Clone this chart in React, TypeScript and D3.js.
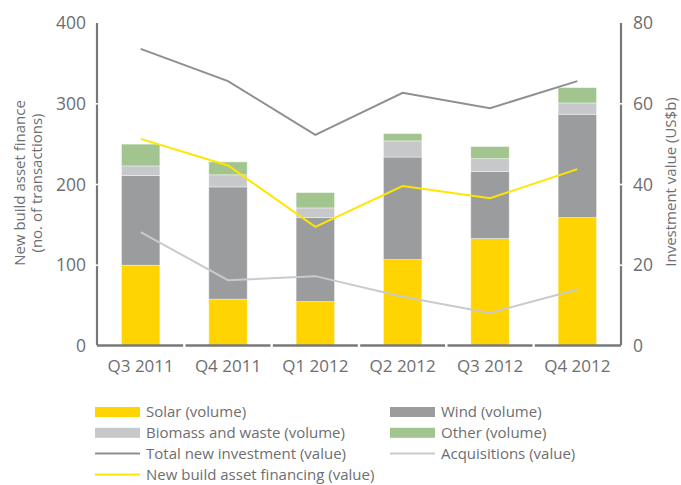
import React from "react";
import * as d3 from "d3";

const categories = ["Q3 2011", "Q4 2011", "Q1 2012", "Q2 2012", "Q3 2012", "Q4 2012"];
const solarVolume = [100, 58, 55, 107, 133, 159];
const windVolume = [111, 139, 104, 127, 83, 128];
const biomassVolume = [12, 15, 12, 20, 16, 14];
const otherVolume = [27, 16, 19, 9, 15, 19];
const totalInvestment = [73.6, 65.6, 52.3, 62.7, 58.9, 65.6];
const newBuildFinancing = [51.3, 44.7, 29.5, 39.6, 36.6, 43.8];
const acquisitions = [28.2, 16.3, 17.3, 12.2, 8.2, 14.0];
const leftTicks = [0, 100, 200, 300, 400];
const rightTicks = [0, 20, 40, 60, 80];

const FONT = "'Open Sans', sans-serif";
const AXIS = "#77787b";
const TEXT = "#6d6e71";

const seriesKeys = ["solar", "wind", "biomass", "other"];
const barColors: Record<string, string> = {
  solar: "#ffd400",
  wind: "#9b9c9e",
  biomass: "#c7c8ca",
  other: "#a2c58f",
};

export default function App() {
  const W = 681, H = 485;
  const x0 = 97, x1 = 621;
  const yTop = 23, yBot = 346;
  const x = d3.scaleBand<string>().domain(categories).range([x0, x1]).paddingInner(0).paddingOuter(0);
  const yL = d3.scaleLinear().domain([0, 400]).range([yBot, yTop]);
  const yR = d3.scaleLinear().domain([0, 80]).range([yBot, yTop]);
  const barW = x.bandwidth() * 0.44;

  const rows = categories.map((c, i) => ({
    cat: c,
    solar: solarVolume[i],
    wind: windVolume[i],
    biomass: biomassVolume[i],
    other: otherVolume[i],
  }));
  const stack = d3.stack<any>().keys(seriesKeys)(rows);

  const cx = (c: string) => (x(c) as number) + x.bandwidth() / 2;
  const line = (vals: number[]) =>
    d3.line<number>().x((_, i) => cx(categories[i])).y((v) => yR(v))(vals) as string;

  const leftSegs = leftTicks.slice(0, -1).map((t, i) => [yL(leftTicks[i + 1]), yL(t)]);
  const rightSegs = rightTicks.slice(0, -1).map((t, i) => [yR(rightTicks[i + 1]), yR(t)]);

  const legend = [
    { label: "Solar (volume)", type: "rect", color: barColors.solar, col: 0, row: 0 },
    { label: "Wind (volume)", type: "rect", color: barColors.wind, col: 1, row: 0 },
    { label: "Biomass and waste (volume)", type: "rect", color: barColors.biomass, col: 0, row: 1 },
    { label: "Other (volume)", type: "rect", color: barColors.other, col: 1, row: 1 },
    { label: "Total new investment (value)", type: "line", color: "#8e8f91", col: 0, row: 2 },
    { label: "Acquisitions (value)", type: "line", color: "#c9cacc", col: 1, row: 2 },
    { label: "New build asset financing (value)", type: "line", color: "#ffe600", col: 0, row: 3 },
  ];
  const legX = [95, 390];
  const legY = (r: number) => 412 + r * 20.8;

  return (
    <svg width={W} height={H} style={{ position: "absolute", left: 0, top: 0 }} fontFamily={FONT}>
      <rect width={W} height={H} fill="#fff" />
      {stack.map((s) =>
        s.map((d, i) => (
          <rect
            key={s.key + i}
            x={cx(categories[i]) - barW / 2}
            y={yL(d[1])}
            width={barW}
            height={yL(d[0]) - yL(d[1])}
            fill={barColors[s.key as string]}
            stroke="#ffffff"
            strokeOpacity={0.5}
            strokeWidth={0.8}
          />
        ))
      )}
      <path d={line(totalInvestment)} fill="none" stroke="#8e8f91" strokeWidth={2} />
      <path d={line(acquisitions)} fill="none" stroke="#c9cacc" strokeWidth={2} />
      <path d={line(newBuildFinancing)} fill="none" stroke="#ffe600" strokeWidth={2} />
      {leftSegs.map(([a, b], i) => (
        <line key={"l" + i} x1={x0} x2={x0} y1={a + (i === leftSegs.length - 1 ? 0 : 0.8)} y2={b - 0.8} stroke={AXIS} strokeWidth={2.2} />
      ))}
      {rightSegs.map(([a, b], i) => (
        <line key={"r" + i} x1={x1} x2={x1} y1={a + (i === rightSegs.length - 1 ? 0 : 0.8)} y2={b - 0.8} stroke={AXIS} strokeWidth={2.2} />
      ))}
      {categories.map((c, i) => (
        <line
          key={"b" + i}
          x1={(x(c) as number) + (i === 0 ? 0 : 1.2)}
          x2={(x(c) as number) + x.bandwidth() - (i === categories.length - 1 ? 0 : 1.2)}
          y1={yBot - 0.5}
          y2={yBot - 0.5}
          stroke={AXIS}
          strokeWidth={2.5}
        />
      ))}
      {leftTicks.map((t) => (
        <text key={"lt" + t} x={86} y={yL(t)} dy="0.35em" textAnchor="end" fontSize={17.5} fill={TEXT}>
          {t}
        </text>
      ))}
      {rightTicks.map((t) => (
        <text key={"rt" + t} x={633} y={yR(t)} dy="0.35em" textAnchor="start" fontSize={17.5} fill={TEXT}>
          {t}
        </text>
      ))}
      {categories.map((c) => (
        <text key={"xt" + c} x={cx(c)} y={372} textAnchor="middle" fontSize={17} fill={TEXT}>
          {c}
        </text>
      ))}
      <text transform="translate(25,183) rotate(-90)" textAnchor="middle" fontSize={15} fill={TEXT}>
        New build asset finance
      </text>
      <text transform="translate(42,183) rotate(-90)" textAnchor="middle" fontSize={15} fill={TEXT}>
        (no. of transactions)
      </text>
      <text transform="translate(676,182) rotate(-90)" textAnchor="middle" fontSize={15} fill={TEXT}>
        Investment value (US$b)
      </text>
      {legend.map((l) => (
        <g key={l.label} transform={`translate(${legX[l.col]},${legY(l.row)})`}>
          {l.type === "rect" ? (
            <rect x={0} y={-5} width={45} height={10} fill={l.color} />
          ) : (
            <line x1={0} x2={45} y1={0} y2={0} stroke={l.color} strokeWidth={2} />
          )}
          <text x={51} y={0} dy="0.35em" fontSize={15} fill={TEXT}>
            {l.label}
          </text>
        </g>
      ))}
    </svg>
  );
}
